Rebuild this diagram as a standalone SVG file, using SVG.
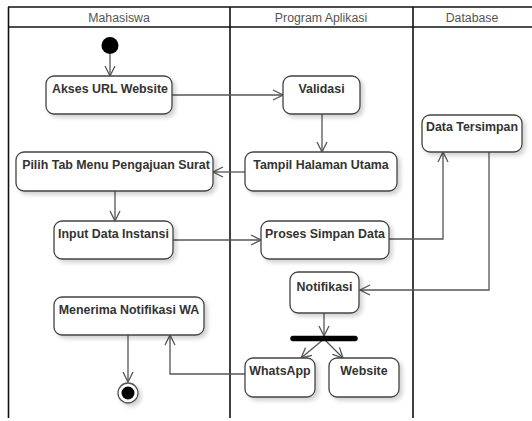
<svg xmlns="http://www.w3.org/2000/svg" width="532" height="421" viewBox="0 0 532 421">
  <style>
    .lane { stroke: #111; stroke-width: 1.6; fill: none; }
    .head { font-family: "Liberation Sans", Arial, sans-serif; font-size: 12.3px; fill: #555; text-anchor: middle; }
    .act rect { fill: #fff; stroke: #444; stroke-width: 1.3; filter: url(#shadow); }
    .act text { font-family: "Liberation Sans", Arial, sans-serif; font-size: 12.4px; font-weight: bold; fill: #333; text-anchor: middle; }
    .flow { stroke: #555; stroke-width: 1.3; fill: none; marker-end: url(#arrow); }
  </style>
  <defs>
    <filter id="shadow" x="-20%" y="-20%" width="150%" height="160%">
      <feGaussianBlur in="SourceAlpha" stdDeviation="2"/>
      <feOffset dx="3" dy="3" result="b"/>
      <feComponentTransfer><feFuncA type="linear" slope="0.18"/></feComponentTransfer>
      <feMerge><feMergeNode/><feMergeNode in="SourceGraphic"/></feMerge>
    </filter>
    <marker id="arrow" viewBox="0 0 12 12" refX="11" refY="6" markerWidth="12" markerHeight="12" markerUnits="userSpaceOnUse" orient="auto">
      <path d="M1,1 L11,6 L1,11" fill="none" stroke="#555" stroke-width="1.3"/>
    </marker>
  </defs>

  <rect width="532" height="421" fill="#fff"/>

  <!-- swimlanes -->
  <g id="lanes">
    <line class="lane" x1="8" y1="7" x2="532" y2="7"/>
    <line class="lane" x1="8" y1="27" x2="532" y2="27"/>
    <line class="lane" x1="8.5" y1="7" x2="8.5" y2="418"/>
    <line class="lane" x1="230" y1="7" x2="230" y2="418"/>
    <line class="lane" x1="413" y1="7" x2="413" y2="418"/>
    <text class="head" x="119" y="21.5">Mahasiswa</text>
    <text class="head" x="321" y="21.5">Program Aplikasi</text>
    <text class="head" x="472" y="21.5">Database</text>
  </g>

  <!-- connectors -->
  <g id="connectors">
    <line class="flow" x1="110" y1="54" x2="110" y2="76"/>
    <line class="flow" x1="172" y1="95" x2="283" y2="95"/>
    <line class="flow" x1="322" y1="114" x2="322" y2="152"/>
    <line class="flow" x1="245" y1="172" x2="213" y2="172"/>
    <line class="flow" x1="115" y1="191" x2="115" y2="221"/>
    <line class="flow" x1="173" y1="240" x2="261" y2="240"/>
    <polyline class="flow" points="389,239 443,239 443,152"/>
    <polyline class="flow" points="489,152 489,290 360,290"/>
    <line class="flow" x1="324" y1="313" x2="324" y2="336"/>
    <line class="flow" x1="324" y1="339" x2="301" y2="358"/>
    <line class="flow" x1="324" y1="339" x2="343" y2="358"/>
    <polyline class="flow" points="245,374 170,374 170,335"/>
    <line class="flow" x1="128" y1="335" x2="128" y2="382"/>
  </g>

  <!-- start node -->
  <g id="start">
    <circle cx="110" cy="45.5" r="8.5" fill="#000"/>
  </g>

  <!-- activities -->
  <g id="akses" class="act">
    <rect x="46" y="76" width="126" height="38" rx="8"/>
    <text x="110" y="92.5">Akses URL Website</text>
  </g>
  <g id="validasi" class="act">
    <rect x="283" y="76" width="77" height="38" rx="8"/>
    <text x="321.5" y="92.5">Validasi</text>
  </g>
  <g id="data-tersimpan" class="act">
    <rect x="422" y="115" width="100" height="37" rx="8"/>
    <text x="472" y="131">Data Tersimpan</text>
  </g>
  <g id="pilih-tab" class="act">
    <rect x="16" y="152" width="197" height="39" rx="8"/>
    <text x="116" y="168.5">Pilih Tab Menu Pengajuan Surat</text>
  </g>
  <g id="tampil" class="act">
    <rect x="245" y="152" width="152" height="39" rx="8"/>
    <text x="321" y="168.5">Tampil Halaman Utama</text>
  </g>
  <g id="input-data" class="act">
    <rect x="54" y="221" width="119" height="38" rx="8"/>
    <text x="113.5" y="237.5">Input Data Instansi</text>
  </g>
  <g id="proses-simpan" class="act">
    <rect x="261" y="221" width="128" height="38" rx="8"/>
    <text x="325" y="237.5">Proses Simpan Data</text>
  </g>
  <g id="notifikasi" class="act">
    <rect x="290" y="272" width="69" height="41" rx="8"/>
    <text x="324.5" y="291">Notifikasi</text>
  </g>
  <g id="menerima" class="act">
    <rect x="54" y="297" width="150" height="38" rx="8"/>
    <text x="129" y="313.5">Menerima Notifikasi WA</text>
  </g>
  <g id="whatsapp" class="act">
    <rect x="245" y="358" width="70" height="39" rx="8"/>
    <text x="280" y="375">WhatsApp</text>
  </g>
  <g id="website" class="act">
    <rect x="329" y="358" width="70" height="39" rx="8"/>
    <text x="364" y="375">Website</text>
  </g>

  <!-- fork bar -->
  <g id="fork">
    <line x1="293" y1="338.5" x2="355" y2="338.5" stroke="#000" stroke-width="5.5" stroke-linecap="round"/>
  </g>

  <!-- end node -->
  <g id="end">
    <circle cx="128" cy="393" r="10" fill="#fff" stroke="#555" stroke-width="1.3" filter="url(#shadow)"/>
    <circle cx="128" cy="393" r="6.5" fill="#000"/>
  </g>
</svg>
